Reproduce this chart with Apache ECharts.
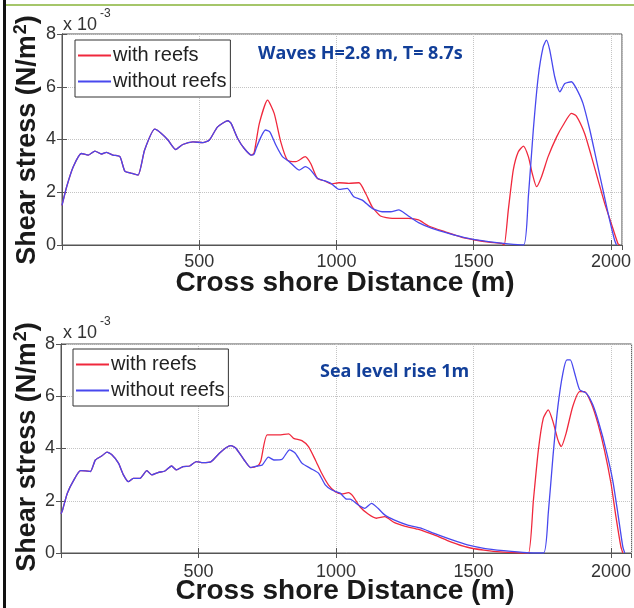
<!DOCTYPE html>
<html><head><meta charset="utf-8">
<script src="https://cdn.jsdelivr.net/npm/echarts@6/dist/echarts.min.js"></script>
<style>html,body{margin:0;padding:0;background:#fff}#c{width:634px;height:608px}</style>
</head><body><div id="c"></div>
<script>
// values in units of 1e-3 N/m^2
var xTicks = [500, 1000, 1500, 2000];
var yTicks = [0, 2, 4, 6, 8];
var seriesNames = ['with reefs', 'without reefs'];

var topCommonX = [0, 17, 41, 71, 96, 120, 144, 162, 186, 211, 229, 253, 277, 301, 338, 362, 386, 414, 440, 477, 513, 537, 567, 604, 616, 640, 664, 690];
var topCommonY = [1.5, 2.21, 2.97, 3.47, 3.41, 3.56, 3.45, 3.51, 3.41, 3.35, 2.80, 2.72, 2.65, 3.60, 4.39, 4.23, 3.98, 3.62, 3.81, 3.91, 3.88, 3.98, 4.48, 4.71, 4.61, 4.04, 3.66, 3.41];
var topRedX = [700, 719, 749, 773, 797, 821, 852, 886, 906, 930, 955, 979, 1009, 1045, 1082, 1106, 1130, 1160, 1203, 1263, 1299, 1336, 1396, 1457, 1505, 1554, 1602, 1611, 1626, 1644, 1662, 1681, 1699, 1713, 1729, 1747, 1771, 1802, 1826, 1856, 1874, 1904, 1929, 1953, 1977, 2001, 2025, 2032];
var topRedY = [3.5, 4.61, 5.49, 4.99, 3.91, 3.22, 3.16, 3.35, 3.09, 2.53, 2.44, 2.32, 2.36, 2.34, 2.36, 1.96, 1.45, 1.10, 1.01, 1.01, 0.95, 0.72, 0.50, 0.29, 0.19, 0.11, 0.06, 0, 1.33, 2.84, 3.53, 3.75, 3.35, 2.72, 2.21, 2.59, 3.35, 4.10, 4.55, 4.99, 4.89, 4.23, 3.35, 2.46, 1.58, 0.82, 0.06, 0];
var topBlueX = [700, 707, 725, 741, 757, 779, 803, 828, 864, 886, 906, 930, 955, 979, 1009, 1039, 1063, 1094, 1130, 1166, 1197, 1227, 1257, 1299, 1348, 1408, 1481, 1554, 1626, 1682, 1699, 1717, 1735, 1753, 1765, 1777, 1795, 1814, 1832, 1856, 1874, 1898, 1923, 1947, 1971, 1995, 2013, 2020];
var topBlueY = [3.45, 3.66, 4.10, 4.36, 4.29, 3.79, 3.35, 3.16, 2.84, 2.97, 2.84, 2.53, 2.44, 2.34, 2.11, 2.15, 1.83, 1.70, 1.39, 1.26, 1.26, 1.33, 1.14, 0.85, 0.63, 0.44, 0.25, 0.13, 0.04, 0, 1.83, 4.36, 6.38, 7.51, 7.77, 7.39, 6.38, 5.81, 6.12, 6.19, 5.93, 5.37, 4.36, 3.22, 2.08, 0.95, 0.19, 0];

var botCommonX = [0, 5, 23, 47, 71, 89, 107, 125, 149, 167, 185, 209, 227, 245, 263, 287, 312, 330, 353, 378, 402, 420, 444, 468, 492, 516, 546, 576, 600, 618, 636, 666, 690, 714];
var botCommonY = [1.5, 1.62, 2.29, 2.80, 3.15, 3.14, 3.12, 3.56, 3.72, 3.86, 3.76, 3.44, 2.99, 2.73, 2.86, 2.86, 3.15, 2.99, 3.08, 3.14, 3.33, 3.18, 3.31, 3.33, 3.50, 3.46, 3.50, 3.82, 4.03, 4.11, 4.01, 3.56, 3.27, 3.33];
var botRedX = [726, 750, 792, 828, 846, 876, 900, 925, 948, 973, 997, 1021, 1045, 1063, 1087, 1117, 1147, 1177, 1213, 1249, 1297, 1357, 1417, 1478, 1538, 1610, 1670, 1700, 1718, 1736, 1754, 1772, 1789, 1807, 1819, 1837, 1861, 1886, 1904, 1928, 1952, 1976, 2000, 2018, 2036, 2043];
var botRedY = [3.50, 4.52, 4.52, 4.56, 4.39, 4.30, 4.07, 3.56, 3.05, 2.6, 2.35, 2.26, 2.31, 2.16, 1.77, 1.49, 1.33, 1.39, 1.16, 1.03, 0.91, 0.69, 0.43, 0.22, 0.11, 0.03, 0, 0, 2.03, 3.95, 5.16, 5.48, 5.03, 4.33, 4.07, 4.59, 5.61, 6.18, 6.18, 5.74, 4.97, 3.95, 2.67, 1.39, 0.24, 0];
var botBlueX = [732, 754, 774, 804, 831, 852, 876, 907, 937, 961, 985, 1015, 1039, 1051, 1081, 1105, 1129, 1153, 1177, 1213, 1261, 1309, 1357, 1417, 1478, 1538, 1610, 1694, 1755, 1772, 1789, 1807, 1825, 1840, 1852, 1868, 1886, 1910, 1934, 1958, 1982, 2006, 2025, 2043, 2050];
var botBlueY = [3.37, 3.67, 3.56, 3.59, 3.95, 3.82, 3.44, 3.24, 3.05, 2.61, 2.41, 2.29, 2.06, 2.06, 1.84, 1.71, 1.90, 1.71, 1.46, 1.26, 1.07, 0.95, 0.75, 0.52, 0.31, 0.18, 0.09, 0.01, 0, 1.52, 3.69, 5.61, 6.88, 7.39, 7.39, 6.88, 6.25, 6.12, 5.67, 4.90, 3.95, 2.80, 1.52, 0.24, 0];

function pairs(xs, ys) { return xs.map(function (x, i) { return [x, ys[i]]; }); }
function joined(cx, cy, xs, ys) { return pairs(cx.concat(xs), cy.concat(ys)); }

var RED = '#f0283c', BLUE = '#4848ee', AX = '#555';
var FONT = 'Liberation Sans, Arial, sans-serif';

function xAx(g, max, pos, labels, margin) {
  return {
    gridIndex: g, type: 'value', min: 0, max: max, interval: 500, position: pos,
    axisLine: { show: true, lineStyle: { color: AX, width: 1 } },
    axisTick: { show: true, inside: true, length: 5, lineStyle: { color: AX } },
    axisLabel: { show: labels, showMinLabel: false, showMaxLabel: false, fontSize: 18, color: '#333', fontFamily: FONT, margin: margin,
      formatter: function (v) { return xTicks.indexOf(v) >= 0 ? String(v) : ''; } },
    splitLine: { show: labels, lineStyle: { color: '#c4c4c4', type: 'dotted', width: 1 } }
  };
}
function yAx(g, pos, labels) {
  return {
    gridIndex: g, type: 'value', min: yTicks[0], max: yTicks[yTicks.length - 1], interval: 2, position: pos,
    axisLine: { show: true, lineStyle: { color: AX, width: 1 } },
    axisTick: { show: true, inside: true, length: 5, lineStyle: { color: AX } },
    axisLabel: { show: labels, fontSize: 18, color: '#333', fontFamily: FONT, margin: 6 },
    splitLine: { show: labels, lineStyle: { color: '#c4c4c4', type: 'dotted', width: 1 } }
  };
}
function line(name, color, xi, yi, data) {
  return { name: name, type: 'line', xAxisIndex: xi, yAxisIndex: yi, data: data, showSymbol: false, symbol: 'none',
    smooth: 0.2, lineStyle: { color: color, width: 1.3 }, itemStyle: { color: color }, animation: false, z: color === BLUE ? 3 : 2 };
}
function legend(top, left) {
  return { data: seriesNames, orient: 'vertical', left: left, top: top, backgroundColor: '#fff', borderColor: '#333', borderWidth: 1,
    padding: [4, 4, 4, 3], itemGap: 3, itemWidth: 33, itemHeight: 2, icon: 'rect',
    textStyle: { fontSize: 20, lineHeight: 23, color: '#222', fontFamily: FONT, padding: [0, 0, 0, -3] } };
}
function txt(x, y, text, size, opts) {
  var s = Object.assign({ text: text, x: 0, y: 0, font: (opts && opts.weight ? opts.weight + ' ' : '') + size + 'px ' + ((opts && opts.family) || FONT),
    fill: (opts && opts.color) || '#222', textAlign: (opts && opts.align) || 'left', textVerticalAlign: 'middle' }, (opts && opts.extra) || {});
  return { type: 'text', x: x, y: y, rotation: (opts && opts.rot) || 0, style: s, z: 100 };
}
function yTitle(cx, cy) {
  return { type: 'text', x: cx, y: cy, rotation: Math.PI / 2, z: 100,
    style: { text: '{a|Shear stress (N/m}{s|2}{a|)}', textAlign: 'center', textVerticalAlign: 'middle',
      rich: { a: { fontSize: 27, fontWeight: 'bold', fontFamily: FONT, fill: '#1a1a1a', color: '#1a1a1a' },
              s: { fontSize: 18, fontWeight: 'bold', fontFamily: FONT, fill: '#1a1a1a', color: '#1a1a1a', padding: [0, 0, 13, 1] } } } };
}

var chart = echarts.init(document.getElementById('c'), null, { renderer: 'canvas' });
chart.setOption({
  animation: false,
  backgroundColor: '#fff',
  grid: [
    { left: 62, top: 34, width: 562, height: 211, show: true, borderColor: AX, borderWidth: 1, backgroundColor: '#fff' },
    { left: 61, top: 344, width: 575, height: 209, show: true, borderColor: AX, borderWidth: 1, backgroundColor: '#fff' }
  ],
  xAxis: [xAx(0, 2040, 'bottom', true, 8), xAx(0, 2040, 'top', false, 8), xAx(1, 2075, 'bottom', true, 10), xAx(1, 2075, 'top', false, 10)],
  yAxis: [yAx(0, 'left', true), yAx(0, 'right', false), yAx(1, 'left', true), yAx(1, 'right', false)],
  legend: [legend(40, 75), legend(349, 73)],
  series: [
    line(seriesNames[0], RED, 0, 0, joined(topCommonX, topCommonY, topRedX, topRedY)),
    line(seriesNames[1], BLUE, 0, 0, joined(topCommonX, topCommonY, topBlueX, topBlueY)),
    line(seriesNames[0], RED, 2, 2, joined(botCommonX, botCommonY, botRedX, botRedY)),
    line(seriesNames[1], BLUE, 2, 2, joined(botCommonX, botCommonY, botBlueX, botBlueY))
  ],
  graphic: [
    { type: 'rect', shape: { x: 3, y: 0, width: 3, height: 608 }, style: { fill: '#111' }, z: 100 },
    { type: 'rect', shape: { x: 6, y: 4, width: 628, height: 2 }, style: { fill: '#a5c66a' }, z: 100 },
    txt(63, 25, 'x 10', 18, { color: '#333' }),
    txt(100, 14, '-3', 12, { color: '#333' }),
    txt(63, 333, 'x 10', 18, { color: '#333' }),
    txt(100, 322, '-3', 12, { color: '#333' }),
    yTitle(28, 140),
    yTitle(28, 447),
    txt(345, 283, 'Cross shore Distance (m)', 28, { weight: 'bold', align: 'center', color: '#1a1a1a' }),
    txt(345, 591, 'Cross shore Distance (m)', 28, { weight: 'bold', align: 'center', color: '#1a1a1a' }),
    txt(258, 54, 'Waves H=2.8 m, T= 8.7s', 18, { weight: 'bold', family: 'Open Sans, sans-serif', color: '#123f99' }),
    txt(320, 372, 'Sea level rise 1m', 18, { weight: 'bold', family: 'Open Sans, sans-serif', color: '#123f99' })
  ]
});
</script></body></html>
